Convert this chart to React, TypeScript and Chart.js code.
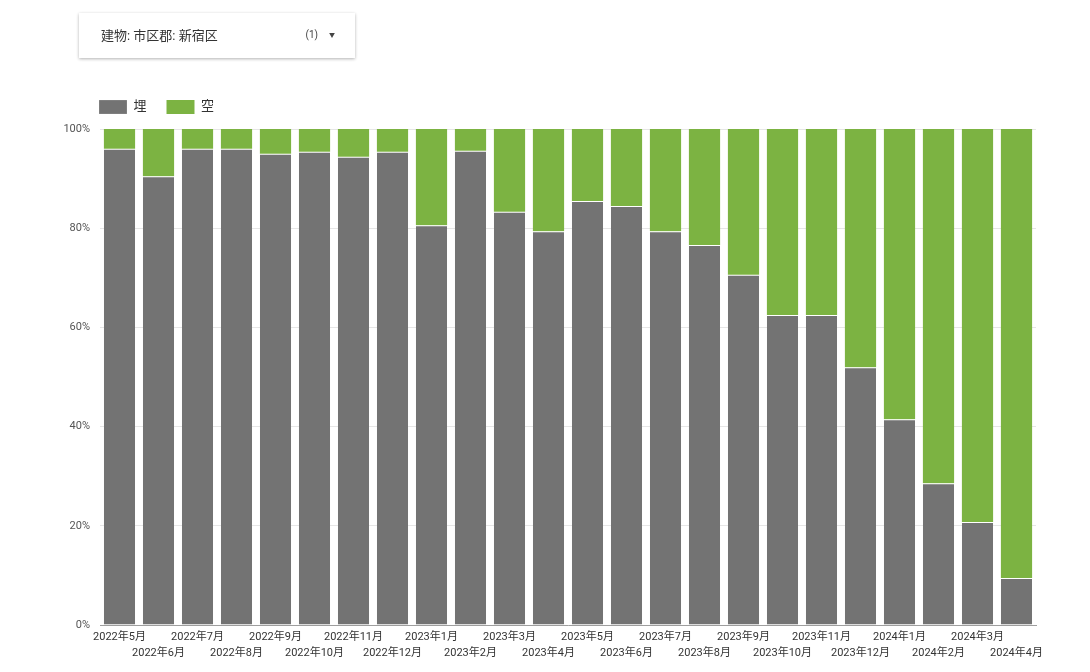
import React, { useEffect, useRef } from "react";
import { Chart, registerables } from "chart.js";

Chart.register(...registerables);

const months = [
  "2022年5月", "2022年6月", "2022年7月", "2022年8月", "2022年9月", "2022年10月",
  "2022年11月", "2022年12月", "2023年1月", "2023年2月", "2023年3月", "2023年4月",
  "2023年5月", "2023年6月", "2023年7月", "2023年8月", "2023年9月", "2023年10月",
  "2023年11月", "2023年12月", "2024年1月", "2024年2月", "2024年3月", "2024年4月",
];

const filledPct = [
  96.0, 90.5, 96.0, 96.0, 95.0, 95.4, 94.4, 95.4, 80.6, 95.6, 83.3, 79.4,
  85.5, 84.5, 79.4, 76.6, 70.6, 62.5, 62.5, 52.0, 41.5, 28.6, 20.8, 9.5,
];

const vacantPct = [
  4.0, 9.5, 4.0, 4.0, 5.0, 4.6, 5.6, 4.6, 19.4, 4.4, 16.7, 20.6,
  14.5, 15.5, 20.6, 23.4, 29.4, 37.5, 37.5, 48.0, 58.5, 71.4, 79.2, 90.5,
];

const seriesNames = ["埋", "空"];
const yTicks = [0, 20, 40, 60, 80, 100];

const FONT = "Roboto, 'Noto Sans CJK JP', sans-serif";

const legendShift = {
  id: "legendShift",
  beforeDraw(chart: any) {
    if (chart.legend) {
      chart.legend.left = 79;
      chart.legend.top = 80;
    }
  },
};

export default function App() {
  const ref = useRef<HTMLCanvasElement | null>(null);

  useEffect(() => {
    document.body.style.margin = "0";
    if (!ref.current) return;
    const labels = months.map((m, i) => (i % 2 === 0 ? [m] : ["", m]));
    const chart = new Chart(ref.current, {
      type: "bar",
      data: {
        labels,
        datasets: [
          {
            label: seriesNames[0],
            data: filledPct,
            backgroundColor: "#737373",
            borderColor: "rgba(255,255,255,0.7)",
            borderWidth: { top: 1, left: 0, right: 0, bottom: 0 },
            borderSkipped: false,
          },
          {
            label: seriesNames[1],
            data: vacantPct,
            backgroundColor: "#7cb342",
            borderWidth: 0,
          },
        ],
      },
      plugins: [legendShift],
      options: {
        animation: false,
        responsive: false,
        maintainAspectRatio: false,
        layout: { padding: { left: 40, top: 85, right: 54, bottom: 7 } },
        datasets: { bar: { categoryPercentage: 1, barPercentage: 0.8 } },
        plugins: {
          legend: {
            position: "top",
            align: "start",
            labels: {
              boxWidth: 28,
              boxHeight: 14,
              padding: 20,
              color: "#333",
              font: { family: FONT, size: 13 },
            },
          },
          tooltip: { enabled: false },
        },
        scales: {
          x: {
            stacked: true,
            grid: { display: false, drawTicks: false },
            border: { display: true, color: "#9e9e9e", width: 1 },
            ticks: {
              autoSkip: false,
              maxRotation: 0,
              minRotation: 0,
              padding: 4,
              color: "#333",
              font: { family: FONT, size: 11, lineHeight: 1.45 },
            },
          },
          y: {
            stacked: true,
            min: 0,
            max: 100,
            afterFit: (scale: any) => {
              scale.width = 60;
            },
            afterBuildTicks: (scale: any) => {
              scale.ticks = yTicks.map((v) => ({ value: v }));
            },
            grid: { color: "#e6e6e6", drawTicks: false },
            border: { display: false },
            ticks: {
              padding: 10,
              color: "#555",
              font: { family: FONT, size: 11 },
              callback: (v: any) => v + "%",
            },
          },
        },
      },
    });
    return () => chart.destroy();
  }, []);

  return (
    <div style={{ position: "absolute", left: 0, top: 0, width: 1090, height: 672, background: "#fff", overflow: "hidden" }}>
      <canvas ref={ref} width={1090} height={672} style={{ position: "absolute", left: 0, top: 0, width: 1090, height: 672 }} />
      <div
        style={{
          position: "absolute",
          left: 79,
          top: 13,
          width: 276,
          height: 45,
          background: "#fff",
          boxShadow: "0 1px 3px rgba(0,0,0,0.3)",
          fontFamily: FONT,
          display: "flex",
          alignItems: "center",
          boxSizing: "border-box",
          paddingLeft: 22,
          paddingRight: 20,
          paddingBottom: 3,
          color: "#333",
        }}
      >
        <span style={{ fontSize: 13, flex: 1 }}>建物: 市区郡: 新宿区</span>
        <span style={{ fontSize: 10, color: "#444", marginRight: 11 }}>(1)</span>
        <span style={{ fontSize: 6, color: "#444" }}>▼</span>
      </div>
    </div>
  );
}
